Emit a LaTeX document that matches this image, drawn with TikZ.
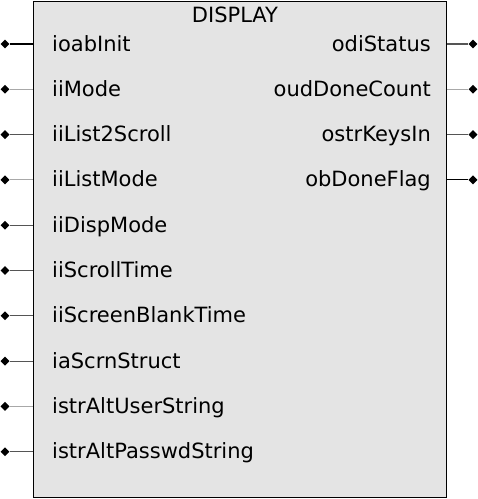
\documentclass[tikz,border=0pt]{standalone}
\usepackage{fontspec}
\setmainfont{DejaVu Sans}
\usetikzlibrary{shapes.geometric}
\definecolor{boxgray}{HTML}{E4E4E4}
\definecolor{pindark}{HTML}{555555}
\definecolor{pinlight}{HTML}{A8A8A8}
\begin{document}
\begin{tikzpicture}[x=1pt, y=-1pt,
  block/.style={draw=black, line width=1.2pt, fill=boxgray, anchor=north west,
    minimum width=413pt, minimum height=496pt, inner sep=0pt},
  pinlabel/.style={font=\fontsize{21}{25}\selectfont, inner sep=0pt},
  pindot/.style={diamond, fill=black, inner sep=0pt, minimum size=9pt},
  pinline/.style={line width=1.1pt}]
\useasboundingbox (0,0) rectangle (478,499);
\node [block] (fb) at (33,1) {};
\node [pinlabel, anchor=base] (title) at (235,22.3) {DISPLAY};
% inputs
\foreach \lbl/\clr [count=\i from 0] in {ioabInit/black, iiMode/pinlight,
    iiList2Scroll/pindark, iiListMode/pinlight, iiDispMode/pindark,
    iiScrollTime/pindark, iiScreenBlankTime/pindark, iaScrnStruct/pindark,
    istrAltUserString/pinlight, istrAltPasswdString/pindark} {
  \node [pindot] (in\i) at (5,44+45.3*\i) {};
  \node [pinlabel, anchor=base west] (inlbl\i) at (52,51+45.3*\i) {\lbl};
  \draw [pinline, \clr] (in\i) -- (in\i -| fb.west);
}
% outputs
\foreach \lbl/\clr [count=\i from 0] in {odiStatus/pindark, oudDoneCount/pinlight,
    ostrKeysIn/pindark, obDoneFlag/black} {
  \node [pindot] (out\i) at (473,44+45.3*\i) {};
  \node [pinlabel, anchor=base east] (outlbl\i) at (431,51+45.3*\i) {\lbl};
  \draw [pinline, \clr] (out\i) -- (out\i -| fb.east);
}
\end{tikzpicture}
\end{document}
